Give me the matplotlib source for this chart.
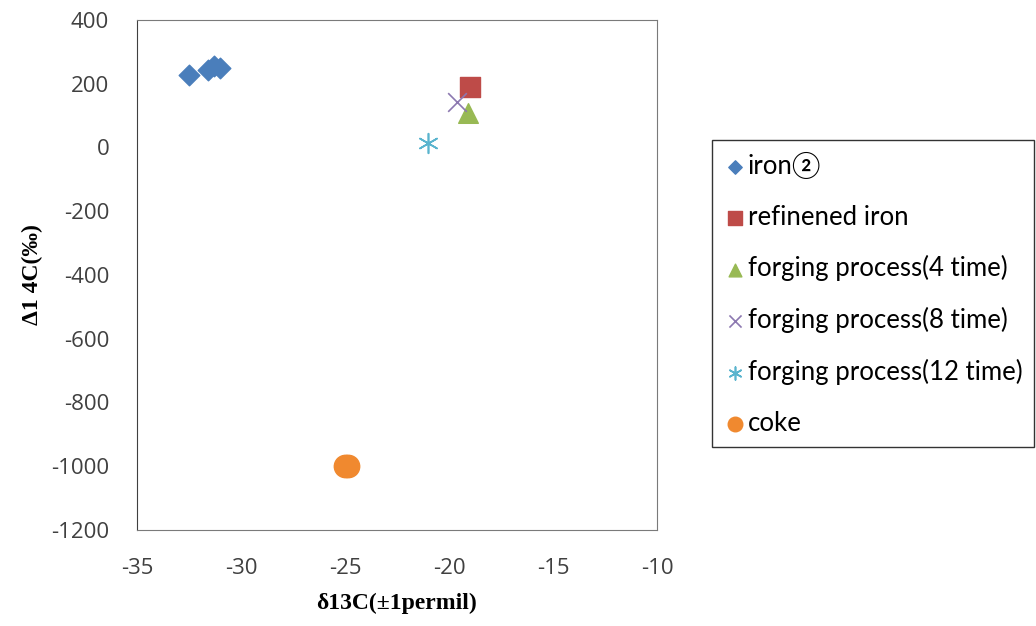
import matplotlib
matplotlib.use("Agg")
import matplotlib.pyplot as plt

plt.rcParams['axes.unicode_minus'] = False

# values
iron_x = [-32.5, -31.6, -31.3, -31.0]
iron_y = [228, 243, 256, 250]
refined_x = [-19.0]
refined_y = [188]
forge4_x = [-19.1]
forge4_y = [108]
forge8_x = [-19.6]
forge8_y = [143]
forge12_x = [-21.0]
forge12_y = [14]
coke_x = [-25.0, -24.85]
coke_y = [-1000, -1000]

xticks = [-35, -30, -25, -20, -15, -10]
yticks = [400, 200, 0, -200, -400, -600, -800, -1000, -1200]

fig = plt.figure(figsize=(10.36, 6.26), dpi=100)
ax = fig.add_axes([0.1322, 0.1534, 0.502, 0.815])

ax.scatter(iron_x, iron_y, marker='D', s=110, color='#4A7EBB', label='iron\u2461', zorder=3)
ax.scatter(refined_x, refined_y, marker='s', s=220, color='#BE4B48', label='refinened iron', zorder=3)
ax.scatter(forge4_x, forge4_y, marker='^', s=200, color='#98B954', label='forging process(4 time)', zorder=3)
ax.scatter(forge8_x, forge8_y, marker='x', s=180, color='#8C78B0', linewidths=1.2, label='forging process(8 time)', zorder=3)
ax.scatter(forge12_x, forge12_y, marker=(6, 2, 0), s=200, color='#5AB4CE', linewidths=1.2, label='forging process(12 time)', zorder=3)
ax.scatter(coke_x, coke_y, marker='o', s=260, color='#F0892F', label='coke', zorder=3)

ax.set_xlim(-35, -10)
ax.set_ylim(-1200, 400)
ax.set_xticks(xticks)
ax.set_yticks(yticks)
for sp in ax.spines.values():
    sp.set_color('#7a7a7a')
ax.spines['left'].set_color('#404040')
ax.tick_params(length=0, labelcolor='#404040', labelsize=16)
ax.tick_params(axis='y', pad=20)
ax.tick_params(axis='x', pad=20)
for lab in ax.get_xticklabels() + ax.get_yticklabels():
    lab.set_family(['Open Sans', 'DejaVu Sans'])

ax.set_xlabel('\u03b413C(\u00b11permil)', family=['Liberation Serif', 'DejaVu Serif'],
              fontweight='bold', fontsize=17, labelpad=10)
ax.set_ylabel('\u03941 4C(\u2030)', family=['Liberation Serif', 'DejaVu Serif'],
              fontweight='bold', fontsize=17, labelpad=6)

leg = fig.legend(loc='upper left', bbox_to_anchor=(0.687, 0.776), frameon=True, fancybox=False,
                 edgecolor='black', borderpad=0.45, labelspacing=1.0, handletextpad=0.05,
                 handlelength=0.9, borderaxespad=0, markerscale=0.65,
                 prop={'family': ['Lato', 'DejaVu Sans'], 'size': 18.5})
leg.get_frame().set_linewidth(1.0)

fig.savefig('out.png', dpi=100)
